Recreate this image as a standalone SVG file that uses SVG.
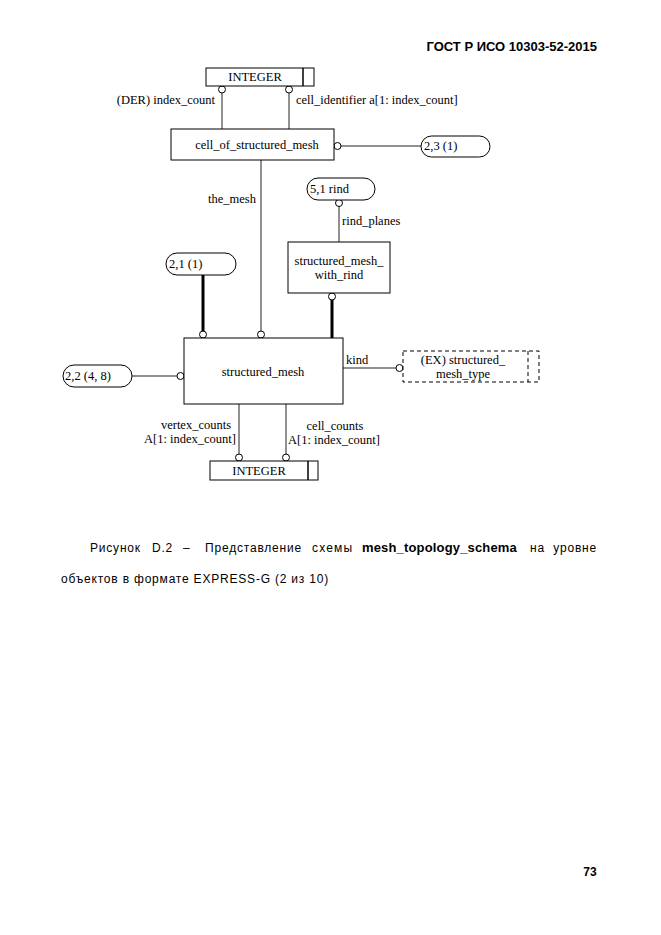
<svg xmlns="http://www.w3.org/2000/svg" width="661" height="935" viewBox="0 0 661 935">
<style>
.box{fill:#fff;stroke:#000;stroke-width:1}
.dash{fill:#fff;stroke:#000;stroke-width:1;stroke-dasharray:4,3}
.ln{stroke:#222;stroke-width:1;fill:none}
.thick{stroke:#000;stroke-width:3;fill:none}
.c{fill:#fff;stroke:#000;stroke-width:1}
.t{font-family:"Liberation Sans",Arial,sans-serif;font-family:"Liberation Serif",serif;font-size:12.5px;fill:#000}
.m{text-anchor:middle}
.e{text-anchor:end}
.cap{font-family:"Liberation Sans",Arial,sans-serif;font-size:12px;fill:#000;letter-spacing:0.8px}
.b{font-weight:bold;letter-spacing:0.2px}
</style>
<rect width="661" height="935" fill="#fff"/>
<text class="cap b e" x="597" y="51" style="font-size:13px;letter-spacing:0">ГОСТ Р ИСО 10303-52-2015</text>

<g id="connectors">
  <line class="ln" x1="222" y1="93" x2="222" y2="129"/>
  <line class="ln" x1="289" y1="93" x2="289" y2="129"/>
  <line class="ln" x1="341" y1="146" x2="421" y2="146"/>
  <line class="ln" x1="261" y1="160" x2="261" y2="332"/>
  <line class="ln" x1="339" y1="206" x2="339" y2="242"/>
  <line class="thick" x1="332" y1="300" x2="332" y2="338"/>
  <line class="thick" x1="203" y1="275" x2="203" y2="332"/>
  <line class="ln" x1="132" y1="376" x2="177" y2="376"/>
  <line class="ln" x1="343" y1="368" x2="396" y2="368"/>
  <line class="ln" x1="239" y1="404" x2="239" y2="454"/>
  <line class="ln" x1="286" y1="404" x2="286" y2="454"/>
  <circle class="c" cx="222" cy="89.5" r="3.5"/>
  <circle class="c" cx="289" cy="89.5" r="3.5"/>
  <circle class="c" cx="337.5" cy="146" r="3.5"/>
  <circle class="c" cx="261" cy="334.5" r="3.5"/>
  <circle class="c" cx="203" cy="334.5" r="3.5"/>
  <circle class="c" cx="339" cy="203" r="3.5"/>
  <circle class="c" cx="332" cy="296.5" r="3.5"/>
  <circle class="c" cx="180.5" cy="376" r="3.5"/>
  <circle class="c" cx="399.5" cy="368" r="3.5"/>
  <circle class="c" cx="239" cy="457.5" r="3.5"/>
  <circle class="c" cx="286" cy="457.5" r="3.5"/>
  <text class="t e" x="215" y="104">(DER) index_count</text>
  <text class="t" x="296" y="104">cell_identifier a[1: index_count]</text>
  <text class="t e" x="256" y="203">the_mesh</text>
  <text class="t" x="342" y="225">rind_planes</text>
  <text class="t" x="346" y="364">kind</text>
  <text class="t m" x="196" y="429">vertex_counts</text>
  <text class="t e" x="236" y="443">A[1: index_count]</text>
  <text class="t m" x="335" y="430">cell_counts</text>
  <text class="t" x="288" y="444">A[1: index_count]</text>
</g>

<g id="integer_top">
  <rect class="box" x="206" y="68" width="108" height="18"/>
  <line class="ln" x1="303" y1="68" x2="303" y2="86" style="stroke:#000;stroke-width:1.5"/>
  <text class="t m" x="255" y="81">INTEGER</text>
</g>

<g id="cell_of_structured_mesh">
  <rect class="box" x="171" y="129" width="163" height="31"/>
  <text class="t m" x="257" y="149">cell_of_structured_mesh</text>
</g>

<g id="ref_2_3">
  <rect class="box" x="421" y="136" width="69" height="21" rx="10.5"/>
  <text class="t" x="424" y="150">2,3 (1)</text>
</g>

<g id="ref_5_1">
  <rect class="box" x="307" y="178" width="68" height="22" rx="11"/>
  <text class="t" x="310" y="193">5,1 rind</text>
</g>

<g id="structured_mesh_with_rind">
  <rect class="box" x="288" y="242" width="102" height="51"/>
  <text class="t m" x="339" y="265">structured_mesh_</text>
  <text class="t m" x="339" y="279">with_rind</text>
</g>

<g id="ref_2_1">
  <rect class="box" x="166" y="253" width="70" height="22" rx="11"/>
  <text class="t" x="169" y="268">2,1 (1)</text>
</g>

<g id="structured_mesh">
  <rect class="box" x="184" y="338" width="159" height="66"/>
  <text class="t m" x="263" y="376">structured_mesh</text>
</g>

<g id="ref_2_2">
  <rect class="box" x="63" y="365" width="69" height="22" rx="11"/>
  <text class="t" x="65" y="380">2,2 (4, 8)</text>
</g>

<g id="structured_mesh_type">
  <rect class="dash" x="403" y="351" width="136" height="31"/>
  <line class="ln" x1="528" y1="351" x2="528" y2="382" style="stroke:#000;stroke-dasharray:4,3"/>
  <text class="t m" x="463" y="364">(EX) structured_</text>
  <text class="t m" x="463" y="378">mesh_type</text>
</g>

<g id="integer_bottom">
  <rect class="box" x="210" y="461" width="108" height="19"/>
  <line class="ln" x1="308" y1="461" x2="308" y2="480" style="stroke:#000;stroke-width:1.5"/>
  <text class="t m" x="259" y="475">INTEGER</text>
</g>

<text class="cap" x="90" y="552">Рисунок</text>
<text class="cap" x="152" y="552">D.2</text>
<text class="cap" x="183" y="552">–</text>
<text class="cap" x="205" y="552" textLength="97" lengthAdjust="spacing">Представление</text>
<text class="cap" x="312" y="552" textLength="41" lengthAdjust="spacing">схемы</text>
<text class="cap b" x="362" y="552" style="font-size:13px" textLength="155" lengthAdjust="spacing">mesh_topology_schema</text>
<text class="cap" x="530" y="552">на</text>
<text class="cap e" x="597" y="552">уровне</text>
<text class="cap" x="61" y="583">объектов в формате EXPRESS-G (2 из 10)</text>

<text class="cap b e" x="597" y="876">73</text>
</svg>
